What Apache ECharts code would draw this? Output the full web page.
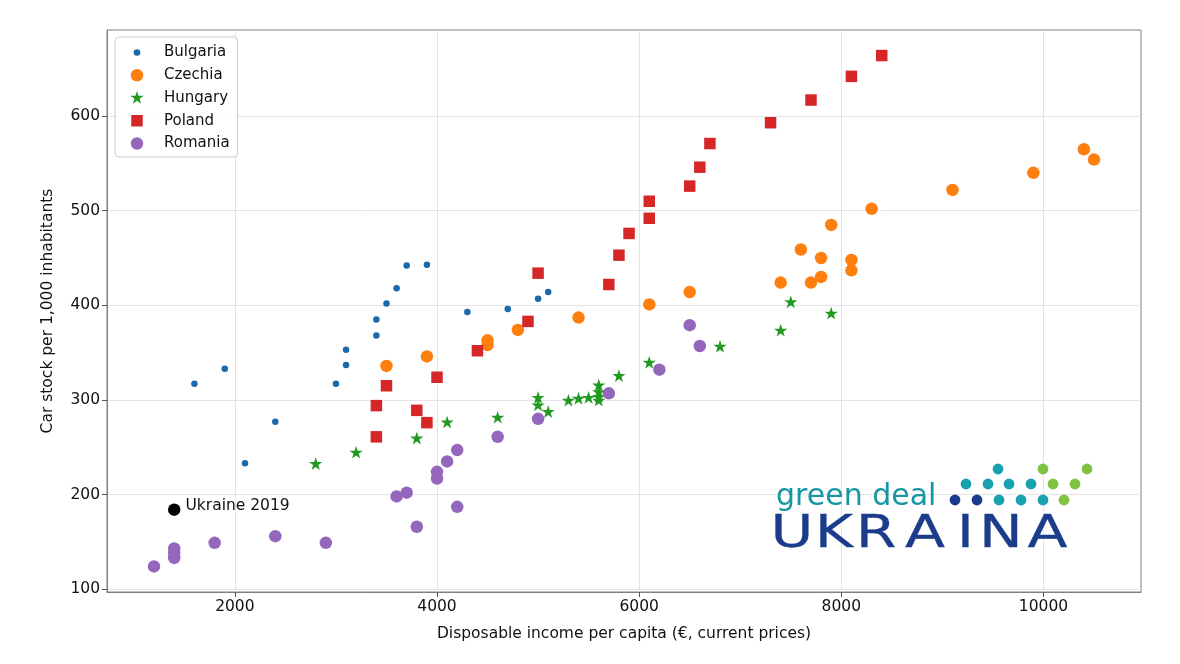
<!DOCTYPE html>
<html lang="en">
<head>
<meta charset="utf-8">
<title>Car stock vs disposable income</title>
<script src="https://cdn.jsdelivr.net/npm/echarts@6/dist/echarts.min.js"></script>
<style>
    html, body { margin: 0; padding: 0; background: #fff; }
    #chart { width: 1180px; height: 664px; }
</style>
</head>
<body>
<div id="chart"></div>
<script>
// values: [income, cars per 1000]
const countries = ['Bulgaria', 'Czechia', 'Hungary', 'Poland', 'Romania'];
const bulgaria = [[1600, 317], [1900, 333], [2100, 233], [2400, 277], [3000, 317], [3100, 337], [3100, 353],
    [3400, 368], [3400, 385], [3500, 402], [3600, 418], [3700, 442], [3900, 443], [4300, 393], [4700, 396],
    [5000, 407], [5100, 414]];
const czechia = [[3500, 336], [3900, 346], [4500, 363], [4500, 358], [4800, 374], [5400, 387], [6100, 401],
    [6500, 414], [7400, 424], [7600, 459], [7700, 424], [7800, 430], [7800, 450], [7900, 485], [8100, 448],
    [8100, 437], [8300, 502], [9100, 522], [9900, 540], [10400, 565], [10500, 554]];
const hungary = [[2800, 232], [3200, 244], [3800, 259], [4100, 276], [4600, 281], [5000, 302], [5000, 294],
    [5100, 287], [5300, 299], [5400, 301], [5500, 302], [5600, 315], [5600, 308], [5600, 303], [5600, 299],
    [5800, 325], [6100, 339], [6800, 356], [7400, 373], [7500, 403], [7900, 391]];
const poland = [[3400, 261], [3400, 294], [3500, 315], [3800, 289], [3900, 276], [4000, 324], [4400, 352],
    [4900, 383], [5000, 434], [5700, 422], [5800, 453], [5900, 476], [6100, 492], [6100, 510], [6500, 526],
    [6600, 546], [6700, 571], [7300, 593], [7700, 617], [8100, 642], [8400, 664]];
const romania = [[1200, 124], [1400, 143], [1400, 138], [1400, 133], [1800, 149], [2400, 156], [2900, 149],
    [3600, 198], [3700, 202], [3800, 166], [4000, 224], [4000, 217], [4100, 235], [4200, 247], [4200, 187],
    [4600, 261], [5000, 280], [5700, 307], [6200, 332], [6500, 379], [6600, 357]];
const ukraine = [[1400, 184]];
const ukraineLabel = 'Ukraine 2019';

const xTicks = [2000, 4000, 6000, 8000, 10000];
const yTicks = [100, 200, 300, 400, 500, 600];
const xName = 'Disposable income per capita (€, current prices)';
const yName = 'Car stock per 1,000 inhabitants';

const FONT = 'DejaVu Sans';

window.addEventListener('DOMContentLoaded', function() {
    initChart();
});

// symbol paths; the leading moves fix the bounding box so the shape keeps its place
function boxStart(w, h) {
    return 'path://M0,0M' + w + ',' + h;
}
function starPath(cx, cy, r, w, h) {
    const inner = r * 0.381966;
    let d = boxStart(w, h);
    for (let i = 0; i < 10; i++) {
        const a = (-90 + i * 36) * Math.PI / 180;
        const rr = i % 2 === 0 ? r : inner;
        d += (i === 0 ? 'M' : 'L') + (cx + rr * Math.cos(a)).toFixed(2) + ',' + (cy + rr * Math.sin(a)).toFixed(2);
    }
    return d + 'Z';
}
function circlePath(cx, cy, r, w, h) {
    return boxStart(w, h) + 'M' + (cx - r) + ',' + cy +
        'A' + r + ',' + r + ',0,1,0,' + (cx + r) + ',' + cy +
        'A' + r + ',' + r + ',0,1,0,' + (cx - r) + ',' + cy + 'Z';
}
function squarePath(cx, cy, s, w, h) {
    const h2 = s / 2;
    return boxStart(w, h) + 'M' + (cx - h2) + ',' + (cy - h2) + 'L' + (cx + h2) + ',' + (cy - h2) +
        'L' + (cx + h2) + ',' + (cy + h2) + 'L' + (cx - h2) + ',' + (cy + h2) + 'Z';
}

// logo in the lower right corner
function logoGraphic() {
    const items = [];
    items.push({
        type: 'text', x: 776, y: 497, z: 10,
        style: { text: 'green deal', fill: '#1596a3', fontFamily: FONT, fontSize: 30,
            align: 'left', verticalAlign: 'middle' }
    });
    const letters = [['U', 792], ['K', 834], ['R', 876], ['A', 925], ['I', 965.5], ['N', 1001], ['A', 1047.5]];
    letters.forEach(l => {
        items.push({
            type: 'text', x: l[1], y: 535, z: 10, scaleX: 1.3,
            style: { text: l[0], fill: '#1b3c8a', fontFamily: FONT, fontSize: 45,
                align: 'center', verticalAlign: 'middle', stroke: '#1b3c8a', lineWidth: 0.3 }
        });
    });
    const teal = '#17a2b2', green = '#80c342', navy = '#1a3b8c';
    const dots = [
        [998, 469, teal], [1043, 469, green], [1087, 469, green],
        [966, 484, teal], [988, 484, teal], [1009, 484, teal], [1031, 484, teal], [1053, 484, green], [1075, 484, green],
        [955, 500, navy], [977, 500, navy], [999, 500, teal], [1021, 500, teal], [1043, 500, teal], [1064, 500, green]
    ];
    dots.forEach(d => {
        items.push({ type: 'circle', z: 10, shape: { cx: d[0], cy: d[1], r: 5.4 }, style: { fill: d[2] } });
    });
    return items;
}

function initChart() {
    const chart = echarts.init(document.getElementById('chart'));
    const W = 34, H = 14, C = 12;
    const legendIcons = [
        circlePath(C, 7, 3.3, W, H),
        circlePath(C, 7, 6.2, W, H),
        starPath(C, 7, 7, W, H),
        squarePath(C, 7, 11.5, W, H),
        circlePath(C, 7, 6.2, W, H)
    ];
    const axisColor = '#808080';
    const tickLabel = { fontFamily: FONT, fontSize: 15.5, color: '#111', formatter: v => String(v) };

    const option = {
        animation: false,
        backgroundColor: '#fff',
        grid: {
            left: 107, right: 39, top: 30, bottom: 72,
            show: true, borderColor: axisColor, borderWidth: 1, backgroundColor: 'transparent'
        },
        legend: {
            orient: 'vertical', left: 115, top: 37,
            padding: [8, 8, 6, 10],
            itemWidth: W, itemHeight: H, itemGap: 7.75,
            backgroundColor: 'rgba(255,255,255,0.85)',
            borderColor: '#cccccc', borderWidth: 1, borderRadius: 4,
            textStyle: { fontFamily: FONT, fontSize: 15, color: '#111' },
            data: countries.map((name, i) => ({ name: name, icon: legendIcons[i] }))
        },
        xAxis: {
            type: 'value', min: 735, max: 10965,
            name: xName, nameLocation: 'middle', nameGap: 34,
            nameTextStyle: { fontFamily: FONT, fontSize: 15.5, color: '#111' },
            axisLine: { show: true, lineStyle: { color: axisColor, width: 1 } },
            axisTick: { show: true, length: 5, customValues: xTicks, lineStyle: { color: '#555' } },
            axisLabel: Object.assign({ margin: 7, customValues: xTicks }, tickLabel),
            splitLine: { show: true, lineStyle: { color: '#e4e4e4', width: 1 } }
        },
        yAxis: {
            type: 'value', min: 97, max: 691,
            name: yName, nameLocation: 'middle', nameGap: 51,
            nameTextStyle: { fontFamily: FONT, fontSize: 15.5, color: '#111' },
            axisLine: { show: true, lineStyle: { color: axisColor, width: 1 } },
            axisTick: { show: true, length: 5, customValues: yTicks, lineStyle: { color: '#555' } },
            axisLabel: Object.assign({ margin: 7, customValues: yTicks }, tickLabel),
            splitLine: { show: true, lineStyle: { color: '#e4e4e4', width: 1 } }
        },
        series: [
            { name: 'Bulgaria', type: 'scatter', data: bulgaria, symbol: 'circle', symbolSize: 6.5,
                itemStyle: { color: '#1b68ab', opacity: 1 } },
            { name: 'Czechia', type: 'scatter', data: czechia, symbol: 'circle', symbolSize: 12.5,
                itemStyle: { color: '#ff7f0e', opacity: 1 } },
            { name: 'Hungary', type: 'scatter', data: hungary, symbol: starPath(50, 50, 50, 100, 100), symbolSize: 14,
                itemStyle: { color: '#229a22', opacity: 1 } },
            { name: 'Poland', type: 'scatter', data: poland, symbol: 'rect', symbolSize: 11.5,
                itemStyle: { color: '#d62728', opacity: 1 } },
            { name: 'Romania', type: 'scatter', data: romania, symbol: 'circle', symbolSize: 12.5,
                itemStyle: { color: '#9467bd', opacity: 1 } },
            { name: ukraineLabel, type: 'scatter', data: ukraine, symbol: 'circle', symbolSize: 12.5,
                itemStyle: { color: '#000', opacity: 1 },
                label: { show: true, formatter: ukraineLabel, position: 'right', distance: 5, offset: [0, -4],
                    fontFamily: FONT, fontSize: 15.5, color: '#111' } }
        ],
        graphic: logoGraphic()
    };
    chart.setOption(option);
}
</script>
</body>
</html>
